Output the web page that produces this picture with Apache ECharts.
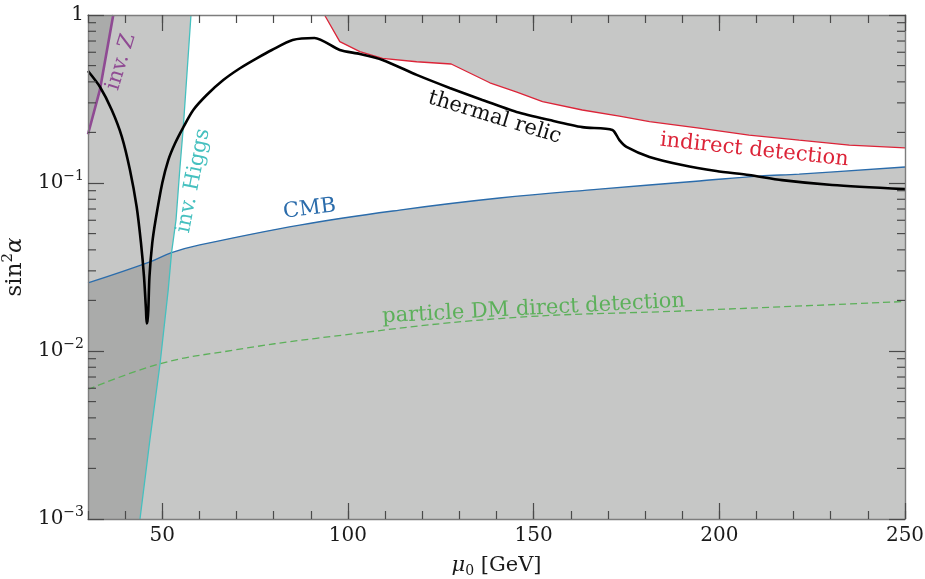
<!DOCTYPE html>
<html><head><meta charset="utf-8">
<script src="https://cdn.jsdelivr.net/npm/echarts@6/dist/echarts.min.js"></script>
<style>html,body{margin:0;padding:0;background:#fff}#c{width:925px;height:579px}</style>
</head><body><div id="c"></div>
<script>
// ---------------- data ----------------
const MU_MIN = 30, MU_MAX = 250;
const Y_MIN = 0.001, Y_MAX = 1;
const muMajorTicks = [50, 100, 150, 200, 250];
const yMinorTicks = [0.002,0.003,0.004,0.005,0.006,0.007,0.008,0.009,
                     0.02,0.03,0.04,0.05,0.06,0.07,0.08,0.09,
                     0.2,0.3,0.4,0.5,0.6,0.7,0.8,0.9];

const thermalRelic = [[30,0.464],[33.2,0.374],[36.4,0.272],[39.1,0.189],[41.3,0.1195],[43.1,0.0722],
  [44.27,0.0438],[45.08,0.0277],[45.62,0.0175],[45.8,0.0146],[46.0,0.0150],[46.24,0.0175],[46.55,0.0277],
  [47.3,0.0438],[48.2,0.0602],[50.0,0.1],[51.62,0.137],[53.42,0.172],[55.66,0.2147],[58.35,0.272],
  [61.96,0.334],[66.43,0.410],[70.93,0.482],[75.42,0.552],[79.5,0.619],[85.1,0.71],[91,0.73],
  [97.8,0.619],[103.2,0.586],[109.3,0.54],[118.5,0.44],[127.4,0.368],[136.2,0.312],[145.4,0.265],
  [154.3,0.237],[163.1,0.215],[171.2,0.207],[173.1,0.18],[175,0.164],[181.2,0.143],[190,0.128],
  [199.2,0.118],[208,0.1116],[216.9,0.104],[230.4,0.0973],[250,0.092]];

const indirectDetection = [[93.7,1.0],[97.8,0.694],[103.2,0.605],[109.3,0.552],[118.5,0.527],[127.8,0.511],
  [138.2,0.395],[145.3,0.349],[152.4,0.305],[163.1,0.272],[173.1,0.25],[181.2,0.232],[194.6,0.212],
  [208,0.193],[221.5,0.18],[235,0.168],[250,0.162]];

const cmb = [[30,0.0254],[46.7,0.0339],[52.5,0.0385],[60.1,0.0428],[87,0.0562],[113.9,0.069],
  [140.8,0.0814],[167.7,0.092],[194.6,0.1028],[210.7,0.110],[221.5,0.113],[250,0.1245]];

const directDetection = [[30,0.0059],[49.4,0.0084],[69,0.0101],[91.5,0.0119],[140.8,0.0156],
  [192.5,0.0174],[250,0.0197]];

const invHiggs = [[44.0,0.001],[46.7,0.003],[49.4,0.0084],[51.6,0.0231],[52.5,0.0385],[53.7,0.0602],
  [54.7,0.119],[55.66,0.2147],[57.27,0.71],[57.73,1.0]];

const invZ = [[30,0.195],[33.2,0.358],[36.8,1.0]];

// ---------------- styles ----------------
const FONT = '"DejaVu Serif", serif';
const AXIS = '#7d7d7d', TICK = '#4a4a4a', TXT = '#1a1a1a';
const SHADE = 'rgb(143,145,144)', SHADE_OP = 0.51;
const C = {thermal:'#000000', red:'#dc2438', blue:'#2b6cab', green:'#5cb05a', teal:'#45c0bf', purple:'#8f4a93'};

const chart = echarts.init(document.getElementById('c'), null, {renderer:'canvas'});

function xAxisDef(pos, major, withLabel) {
  const a = {
    type:'value', min:MU_MIN, max:MU_MAX, position:pos, gridIndex:0, z:5,
    splitLine:{show:false},
    axisLine:{show:major, onZero:false, lineStyle:{color:AXIS, width:1.4}},
    axisTick:{show:true, inside:true, length: major?16:8, lineStyle:{color:TICK, width:1.2}},
    axisLabel:{show:false}
  };
  if (major) {
    a.axisTick.customValues = muMajorTicks;
    if (withLabel) a.axisLabel = {show:true, customValues: muMajorTicks, fontFamily:FONT, fontSize:20, color:TXT, margin:7};
  } else {
    a.interval = 10;
  }
  return a;
}
function yAxisDef(pos, withLabel) {
  const a = {
    type:'log', logBase:10, min:Y_MIN, max:Y_MAX, position:pos, gridIndex:0, z:5, interval:1,
    splitLine:{show:false},
    axisLine:{show:true, onZero:false, lineStyle:{color:AXIS, width:1.4}},
    axisTick:{show:true, inside:true, length:16, lineStyle:{color:TICK, width:1.2}},
    axisLabel:{show:false}
  };
  if (withLabel) {
    a.axisLabel = {
      show:true, margin:4, color:TXT,
      formatter: v => { const e = Math.round(Math.log10(v)); return e === 0 ? '{b|1}' : '{b|10}{s|−' + (-e) + '}'; },
      rich:{ b:{fontFamily:FONT, fontSize:20, color:TXT}, s:{fontFamily:FONT, fontSize:14, color:TXT, padding:[0,0,14,0]} }
    };
    a.name = '{n|sin}{s|2}{a|α}';
    a.nameLocation = 'middle';
    a.nameRotate = 90;
    a.nameGap = 54;
    a.nameTextStyle = {rich:{ n:{fontFamily:FONT, fontSize:23, color:TXT}, s:{fontFamily:FONT, fontSize:15, color:TXT, padding:[0,0,15,0]}, a:{fontFamily:FONT, fontSize:23, fontStyle:'italic', color:TXT} }};
  }
  return a;
}

const xBottom = xAxisDef('bottom', true, true);
xBottom.name = '{m|μ}{s|0}{t| [GeV]}';
xBottom.nameLocation = 'middle';
xBottom.nameGap = 35;
xBottom.nameTextStyle = {rich:{ m:{fontFamily:FONT, fontSize:21, fontStyle:'italic', color:TXT}, s:{fontFamily:FONT, fontSize:14, color:TXT, padding:[10,0,0,0]}, t:{fontFamily:FONT, fontSize:21, color:TXT} }};

function lineSeries(data, color, width, extra) {
  return Object.assign({
    type:'line', data, xAxisIndex:0, yAxisIndex:0, showSymbol:false, symbol:'none', clip:true, silent:true,
    lineStyle:{color, width}, z:4
  }, extra || {});
}
function areaOnly(data, origin, extra) {
  return Object.assign({
    type:'line', data, xAxisIndex:0, yAxisIndex:0, showSymbol:false, symbol:'none', clip:true, silent:true,
    lineStyle:{width:0, opacity:0}, areaStyle:{color:SHADE, opacity:SHADE_OP, origin}, z:1
  }, extra || {});
}

const higgsRegion = [[MU_MIN, Y_MIN]].concat(invHiggs, [[MU_MIN, Y_MAX]]);

const option = {
  animation:false,
  backgroundColor:'#ffffff',
  grid:{left:88, right:20, top:15, bottom:60, containLabel:false, outerBoundsMode:'none'},
  xAxis:[ xBottom, xAxisDef('bottom', false, false), xAxisDef('top', true, false), xAxisDef('top', false, false) ],
  yAxis:[ yAxisDef('left', true), yAxisDef('right', false) ],
  series:[
    // shaded excluded regions
    {
      type:'custom', coordinateSystem:'cartesian2d', xAxisIndex:0, yAxisIndex:0, silent:true, z:1,
      data:[higgsRegion[0]],
      renderItem:(p, api) => ({ type:'polygon', shape:{points: higgsRegion.map(q => api.coord(q))},
        style:{fill:SHADE, opacity:SHADE_OP} })
    },
    areaOnly(invZ, 'end'),
    areaOnly(cmb, 'start', {smooth:0.4}),
    areaOnly(indirectDetection, 'end'),
    // curves
    lineSeries(directDetection, C.green, 1.3, {smooth:0.4, lineStyle:{color:C.green, width:1.3, type:[7,4]}}),
    lineSeries(cmb, C.blue, 1.3, {smooth:0.4}),
    lineSeries(indirectDetection, C.red, 1.3),
    lineSeries(invHiggs, C.teal, 1.3),
    lineSeries(invZ, C.purple, 2.6),
    lineSeries(thermalRelic, C.thermal, 2.6, {smooth:0.25}),
    // log minor ticks on left and right edges
    {
      type:'custom', coordinateSystem:'cartesian2d', xAxisIndex:0, yAxisIndex:0, silent:true, z:6,
      data: yMinorTicks.map(v => [MU_MIN, v]),
      renderItem:(p, api) => {
        const v = api.value(1);
        const l = api.coord([MU_MIN, v]), r = api.coord([MU_MAX, v]);
        const st = {stroke:TICK, lineWidth:1.2};
        return {type:'group', children:[
          {type:'line', shape:{x1:l[0], y1:l[1], x2:l[0]+8, y2:l[1]}, style:st},
          {type:'line', shape:{x1:r[0]-8, y1:r[1], x2:r[0], y2:r[1]}, style:st}
        ]};
      }
    }
  ]
};
chart.setOption(option);

// ---------------- curve annotations (anchored in data coordinates) ----------------
const annotations = [
  {text:'inv. Z', mu:38.9, y:0.525, rot:73, color:C.purple},
  {text:'inv. Higgs', mu:58.4, y:0.103, rot:79, color:C.teal},
  {text:'thermal relic', mu:139.5, y:0.245, rot:-17, color:'#111111'},
  {text:'indirect detection', mu:209.4, y:0.157, rot:-6, color:C.red},
  {text:'CMB', mu:89.7, y:0.070, rot:7, color:C.blue},
  {text:'particle DM direct detection', mu:150, y:0.0178, rot:3, color:C.green}
];
chart.setOption({
  graphic: annotations.map(a => {
    const p = chart.convertToPixel({xAxisIndex:0, yAxisIndex:0}, [a.mu, a.y]);
    return {type:'text', x:p[0], y:p[1], rotation:a.rot*Math.PI/180, z:20, silent:true,
      style:{text:a.text, fill:a.color, font:'21px ' + FONT, align:'center', verticalAlign:'middle'}};
  })
});
</script>
</body></html>
